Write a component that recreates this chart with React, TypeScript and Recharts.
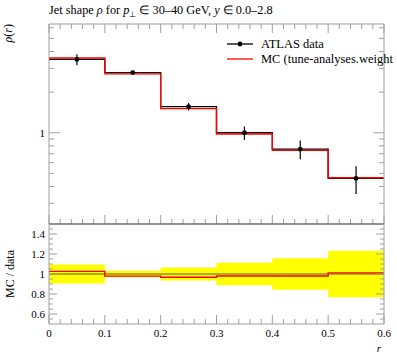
import React from 'react'
import {
  ComposedChart,
  Line,
  Scatter,
  ErrorBar,
  Area,
  XAxis,
  YAxis,
  ReferenceLine,
} from 'recharts'

// bins in r
const binEdges = [0, 0.1, 0.2, 0.3, 0.4, 0.5, 0.6]
// ATLAS data, rho(r), and its error
const atlasRho = [3.49, 2.79, 1.56, 1.0, 0.756, 0.459]
const atlasErr = [0.33, 0.09, 0.1, 0.113, 0.12, 0.107]
// MC prediction
const mcRho = [3.58, 2.73, 1.51, 0.98, 0.741, 0.464]

// ticks
const rLabelTicks = [0, 0.1, 0.2, 0.3, 0.4, 0.5, 0.6]
const rhoTicks = [0.3, 0.4, 0.5, 0.6, 0.7, 0.8, 0.9, 1, 2, 3, 4, 5, 6]
const rhoLabelTicks = [1]
const ratioLabelTicks = [0.6, 0.8, 1, 1.2, 1.4]

const W = 397
const FRAME = '#a0a0a0'
const FONT = "'Liberation Serif', serif"

// minor ticks: 5 per r interval, 4 per ratio label interval
const rTicks: number[] = []
rLabelTicks.forEach((t, i) => {
  if (i === rLabelTicks.length - 1) return rTicks.push(t)
  const step = (rLabelTicks[i + 1] - t) / 5
  for (let k = 0; k < 5; k++) rTicks.push(+(t + k * step).toFixed(4))
})
const ratioTicks: number[] = []
for (let k = 0; k < 19; k++) ratioTicks.push(+(0.55 + k * 0.05).toFixed(4))

const isIn = (v: number, list: number[]) => list.some((t) => Math.abs(t - v) < 1e-6)

const toSteps = (vals: number[]) =>
  binEdges.map((x, i) => ({ x, y: vals[Math.min(i, vals.length - 1)] }))

const dataSteps = toSteps(atlasRho)
const mcSteps = toSteps(mcRho)
const dataPoints = atlasRho.map((y, i) => ({
  x: (binEdges[i] + binEdges[i + 1]) / 2,
  y,
  err: atlasErr[i],
}))
const ratioSteps = toSteps(mcRho.map((v, i) => v / atlasRho[i]))
const bandSteps = binEdges.map((x, i) => {
  const j = Math.min(i, atlasRho.length - 1)
  const rel = atlasErr[j] / atlasRho[j]
  return { x, band: [1 - rel, 1 + rel] }
})

const fmt = (v: number) => String(+v.toFixed(2))
const textStyle = { fontFamily: FONT }

const makeTick =
  (side: 'left' | 'right' | 'top' | 'bottom', labels: number[], major: number, minor: number, showLabel: boolean) =>
  (p: any) => {
    const v = p.payload.value
    const big = isIn(v, labels)
    const len = big ? major : minor
    const x = Number(p.x)
    const y = Number(p.y)
    if (side === 'left')
      return (
        <g>
          <path d={`M${x},${y}h${len}`} stroke={FRAME} strokeWidth={1} fill="none" />
          {showLabel && big && (
            <text x={x - 4} y={y + 4} textAnchor="end" fontSize={11} style={textStyle} fill="#000" stroke="none">
              {fmt(v)}
            </text>
          )}
        </g>
      )
    if (side === 'right') return <path d={`M${x},${y}h${-len}`} stroke={FRAME} strokeWidth={1} fill="none" />
    if (side === 'top') return <path d={`M${x},${y}v${len}`} stroke={FRAME} strokeWidth={1} fill="none" />
    return (
      <g>
        <path d={`M${x},${y}v${-len}`} stroke={FRAME} strokeWidth={1} fill="none" />
        {showLabel && big && (
          <text x={x} y={y + 13} textAnchor="middle" fontSize={11} style={textStyle} fill="#000" stroke="none">
            {fmt(v)}
          </text>
        )}
      </g>
    )
  }

const Dot = (p: any) => <circle cx={p.cx} cy={p.cy} r={2.4} fill="#000" />

function MainPanel() {
  return (
    <ComposedChart width={W} height={225} margin={{ top: 23, right: 12, bottom: 0, left: 0 }}>
      <XAxis
        dataKey="x"
        type="number"
        domain={[0, 0.6]}
        allowDataOverflow
        ticks={rTicks}
        interval={0}
        height={1}
        tickSize={0}
        tickMargin={0}
        tickLine={false}
        stroke={FRAME}
        tick={makeTick('bottom', rLabelTicks, 9, 5, false)}
      />
      <XAxis
        xAxisId="top"
        orientation="top"
        dataKey="x"
        type="number"
        domain={[0, 0.6]}
        allowDataOverflow
        ticks={rTicks}
        interval={0}
        height={1}
        tickSize={0}
        tickMargin={0}
        tickLine={false}
        stroke={FRAME}
        tick={makeTick('top', rLabelTicks, 9, 5, false)}
      />
      <YAxis
        dataKey="y"
        scale="log"
        type="number"
        domain={[0.211, 6.39]}
        allowDataOverflow
        ticks={rhoTicks}
        interval={0}
        width={49}
        tickSize={0}
        tickMargin={0}
        tickLine={false}
        stroke={FRAME}
        tick={makeTick('left', rhoLabelTicks, 11, 5, true)}
      />
      <YAxis
        yAxisId="right"
        orientation="right"
        scale="log"
        type="number"
        domain={[0.211, 6.39]}
        allowDataOverflow
        ticks={rhoTicks}
        interval={0}
        width={1}
        tickSize={0}
        tickMargin={0}
        tickLine={false}
        stroke={FRAME}
        tick={makeTick('right', rhoLabelTicks, 11, 5, false)}
      />
      <Line
        data={dataSteps}
        dataKey="y"
        type="stepAfter"
        stroke="#000"
        strokeWidth={1.3}
        dot={false}
        isAnimationActive={false}
      />
      <Line
        data={mcSteps}
        dataKey="y"
        type="stepAfter"
        stroke="#ff0000"
        strokeWidth={1.4}
        dot={false}
        isAnimationActive={false}
      />
      <Scatter data={dataPoints} dataKey="y" shape={Dot} isAnimationActive={false}>
        <ErrorBar dataKey="err" direction="y" width={0} stroke="#000" strokeWidth={1.2} />
      </Scatter>
    </ComposedChart>
  )
}

function RatioPanel() {
  return (
    <ComposedChart width={W} height={154} margin={{ top: 19, right: 12, bottom: 33, left: 0 }}>
      <XAxis
        dataKey="x"
        type="number"
        domain={[0, 0.6]}
        allowDataOverflow
        ticks={rTicks}
        interval={0}
        height={1}
        tickSize={0}
        tickMargin={0}
        tickLine={false}
        stroke={FRAME}
        tick={makeTick('bottom', rLabelTicks, 9, 5, true)}
      />
      <XAxis
        xAxisId="top"
        orientation="top"
        dataKey="x"
        type="number"
        domain={[0, 0.6]}
        height={1}
        tick={false}
        tickLine={false}
        stroke="#555"
      />
      <YAxis
        type="number"
        domain={[0.5, 1.5]}
        allowDataOverflow
        ticks={ratioTicks}
        interval={0}
        width={49}
        tickSize={0}
        tickMargin={0}
        tickLine={false}
        stroke={FRAME}
        tick={makeTick('left', ratioLabelTicks, 8, 4, true)}
      />
      <YAxis
        yAxisId="right"
        orientation="right"
        type="number"
        domain={[0.5, 1.5]}
        allowDataOverflow
        ticks={ratioTicks}
        interval={0}
        width={1}
        tickSize={0}
        tickMargin={0}
        tickLine={false}
        stroke={FRAME}
        tick={makeTick('right', ratioLabelTicks, 8, 4, false)}
      />
      <Area
        data={bandSteps}
        dataKey="band"
        type="stepAfter"
        fill="#ffff00"
        fillOpacity={1}
        stroke="none"
        isAnimationActive={false}
      />
      <ReferenceLine y={1} stroke="#555" strokeWidth={1} />
      <Line
        data={ratioSteps}
        dataKey="y"
        type="stepAfter"
        stroke="#ff0000"
        strokeWidth={1.4}
        dot={false}
        isAnimationActive={false}
      />
    </ComposedChart>
  )
}

export default function App() {
  return (
    <div
      style={{
        position: 'absolute',
        left: 0,
        top: 0,
        width: W,
        height: 358,
        overflow: 'hidden',
        background: '#fff',
      }}
    >
      <div style={{ position: 'absolute', left: 0, top: 0 }}>
        <MainPanel />
      </div>
      <div style={{ position: 'absolute', left: 0, top: 204 }}>
        <RatioPanel />
      </div>
      <svg
        width={W}
        height={358}
        style={{ position: 'absolute', left: 0, top: 0, pointerEvents: 'none', fontFamily: FONT }}
      >
        <text x={49} y={14} fontSize={12.3}>
          Jet shape <tspan fontStyle="italic">ρ</tspan> for <tspan fontStyle="italic">p</tspan>
          <tspan fontSize={8} dy={3}>⊥</tspan>
          <tspan dy={-3}> ∈ 30–40 GeV, </tspan>
          <tspan fontStyle="italic">y</tspan> ∈ 0.0–2.8
        </text>
        <text transform="translate(12, 24) rotate(-90)" textAnchor="end" fontSize={12}>
          <tspan fontStyle="italic">ρ</tspan>(<tspan fontStyle="italic">r</tspan>)
        </text>
        <text transform="translate(14, 274) rotate(-90)" textAnchor="middle" fontSize={12}>
          MC / data
        </text>
        <text x={379} y={352} textAnchor="middle" fontSize={11} fontStyle="italic">
          r
        </text>
        {/* legend */}
        <line x1={227} x2={253} y1={44} y2={44} stroke="#000" strokeWidth={1.3} />
        <circle cx={240} cy={44} r={2.4} fill="#000" />
        <text x={261} y={48} fontSize={12.5}>
          ATLAS data
        </text>
        <line x1={227} x2={253} y1={59} y2={59} stroke="#ff0000" strokeWidth={1.3} />
        <text x={261} y={63} fontSize={12.5}>
          MC (tune-analyses.weight
        </text>
      </svg>
    </div>
  )
}
